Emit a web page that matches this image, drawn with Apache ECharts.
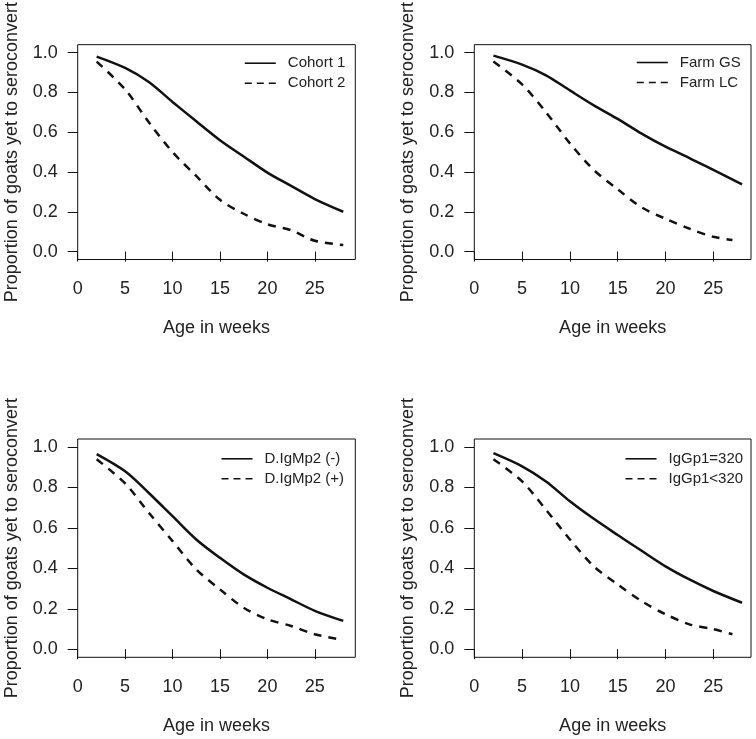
<!DOCTYPE html>
<html>
<head>
<meta charset="utf-8">
<script src="https://cdn.jsdelivr.net/npm/echarts@6/dist/echarts.min.js"></script>
<style>
html,body{margin:0;padding:0;background:#fff;}
#chart{width:756px;height:739px;}
</style>
</head>
<body>
<div id="chart"></div>
<script>
// Age in weeks at which values were read
const weeks = [2, 5, 7.5, 10, 12.5, 15, 17.5, 20, 22.5, 25, 28];
const weeksShort = [2, 5, 7.5, 10, 12.5, 15, 17.5, 20, 22.5, 25, 27];

// Panel 1
const cohort1 = [0.98, 0.923, 0.852, 0.752, 0.655, 0.56, 0.478, 0.397, 0.33, 0.264, 0.20];
const cohort2 = [0.955, 0.815, 0.65, 0.50, 0.38, 0.26, 0.19, 0.137, 0.107, 0.054, 0.033];
// Panel 2
const farmGS = [0.985, 0.94, 0.886, 0.81, 0.735, 0.667, 0.593, 0.527, 0.47, 0.41, 0.338];
const farmLC = [0.955, 0.84, 0.70, 0.544, 0.41, 0.313, 0.222, 0.165, 0.115, 0.074, 0.058];
// Panel 3
const igmNeg = [0.965, 0.88, 0.773, 0.658, 0.543, 0.452, 0.37, 0.304, 0.247, 0.19, 0.14];
const igmPos = [0.94, 0.82, 0.675, 0.535, 0.395, 0.296, 0.205, 0.148, 0.115, 0.074, 0.046];
// Panel 4
const iggEq = [0.97, 0.905, 0.83, 0.732, 0.645, 0.565, 0.487, 0.41, 0.345, 0.288, 0.23];
const iggLt = [0.94, 0.83, 0.69, 0.543, 0.41, 0.32, 0.238, 0.173, 0.123, 0.099, 0.074];

const xTicks = [0, 5, 10, 15, 20, 25];
const yTicks = [0, 0.2, 0.4, 0.6, 0.8, 1.0];
const xTitle = 'Age in weeks';
const yTitle = 'Proportion of goats yet to seroconvert';

const panels = [
  {names: ['Cohort 1', 'Cohort 2'], a: [weeks, cohort1], b: [weeks, cohort2]},
  {names: ['Farm GS', 'Farm LC'], a: [weeks, farmGS], b: [weeksShort, farmLC]},
  {names: ['D.IgMp2 (-)', 'D.IgMp2 (+)'], a: [weeks, igmNeg], b: [weeks, igmPos]},
  {names: ['IgGp1=320', 'IgGp1<320'], a: [weeks, iggEq], b: [weeksShort, iggLt]}
];

const FONT = '"Liberation Sans", Arial, sans-serif';
const TXT = '#222';

const gridPos = [
  {left: 77.7, top: 41.2, width: 277.6, height: 218.3, xmax: 29.27},
  {left: 474.3, top: 41.2, width: 276.7, height: 218.3, xmax: 28.94},
  {left: 77.7, top: 439, width: 277.6, height: 218.3, xmax: 29.27},
  {left: 474.3, top: 439, width: 276.7, height: 218.3, xmax: 28.94}
];
const legendPos = [
  {left: 244, top: 55.7},
  {left: 636, top: 55},
  {left: 220.7, top: 451.3},
  {left: 624.7, top: 451.3}
];

function pairs(xs, ys) { return xs.map((x, i) => [x, ys[i]]); }

const grid = [], xAxis = [], yAxis = [], series = [], legend = [];
gridPos.forEach((g, i) => {
  grid.push({left: g.left, top: g.top, width: g.width, height: g.height,
    show: true, borderColor: '#111', borderWidth: 1, backgroundColor: 'transparent'});
  xAxis.push({
    gridIndex: i, type: 'value', min: 0, max: g.xmax,
    name: xTitle, nameLocation: 'middle', nameGap: 60,
    nameTextStyle: {fontFamily: FONT, fontSize: 18, color: TXT},
    axisLine: {show: false},
    axisTick: {show: true, inside: false, length: 10, customValues: xTicks, lineStyle: {color: '#111', width: 1}},
    axisLabel: {show: true, margin: 21, fontFamily: FONT, fontSize: 18, color: TXT, customValues: xTicks,
      formatter: v => String(v)},
    splitLine: {show: false}
  });
  yAxis.push({
    gridIndex: i, type: 'value', min: -0.04, max: 1.04,
    name: yTitle, nameLocation: 'middle', nameGap: 57, nameRotate: 90,
    nameTextStyle: {fontFamily: FONT, fontSize: 18, color: TXT},
    axisLine: {show: false},
    axisTick: {show: true, inside: false, length: 10, customValues: yTicks, lineStyle: {color: '#111', width: 1}},
    axisLabel: {show: true, margin: 20, fontFamily: FONT, fontSize: 18, color: TXT, customValues: yTicks,
      formatter: v => v.toFixed(1)},
    splitLine: {show: false}
  });
  const p = panels[i];
  series.push({
    type: 'line', name: p.names[0], xAxisIndex: i, yAxisIndex: i,
    data: pairs(p.a[0], p.a[1]), smooth: 0.3, symbol: 'none',
    itemStyle: {color: '#111'},
    lineStyle: {color: '#111', width: 2.5, type: 'solid'}, silent: true
  });
  series.push({
    type: 'line', name: p.names[1], xAxisIndex: i, yAxisIndex: i,
    data: pairs(p.b[0], p.b[1]), smooth: 0.3, symbol: 'none',
    itemStyle: {color: '#111'},
    lineStyle: {color: '#111', width: 2.5, type: [8, 7]}, silent: true
  });
  legend.push({
    data: [
      {name: p.names[0], lineStyle: {type: 'solid'}},
      {name: p.names[1], lineStyle: {type: [7, 5]}}
    ],
    orient: 'vertical', left: legendPos[i].left, top: legendPos[i].top,
    padding: 0, itemWidth: 31, itemHeight: 14, itemGap: 5,
    itemStyle: {color: 'rgba(0,0,0,0)', borderWidth: 0, opacity: 0},
    lineStyle: {width: 1.6, color: '#111'},
    textStyle: {fontFamily: FONT, fontSize: 15, color: TXT, lineHeight: 14, padding: [0, 0, 0, 7]},
    selectedMode: false
  });
});

const chart = echarts.init(document.getElementById('chart'), null, {renderer: 'canvas'});
chart.setOption({
  animation: false,
  backgroundColor: '#fff',
  grid, xAxis, yAxis, series, legend
});
</script>
</body>
</html>
